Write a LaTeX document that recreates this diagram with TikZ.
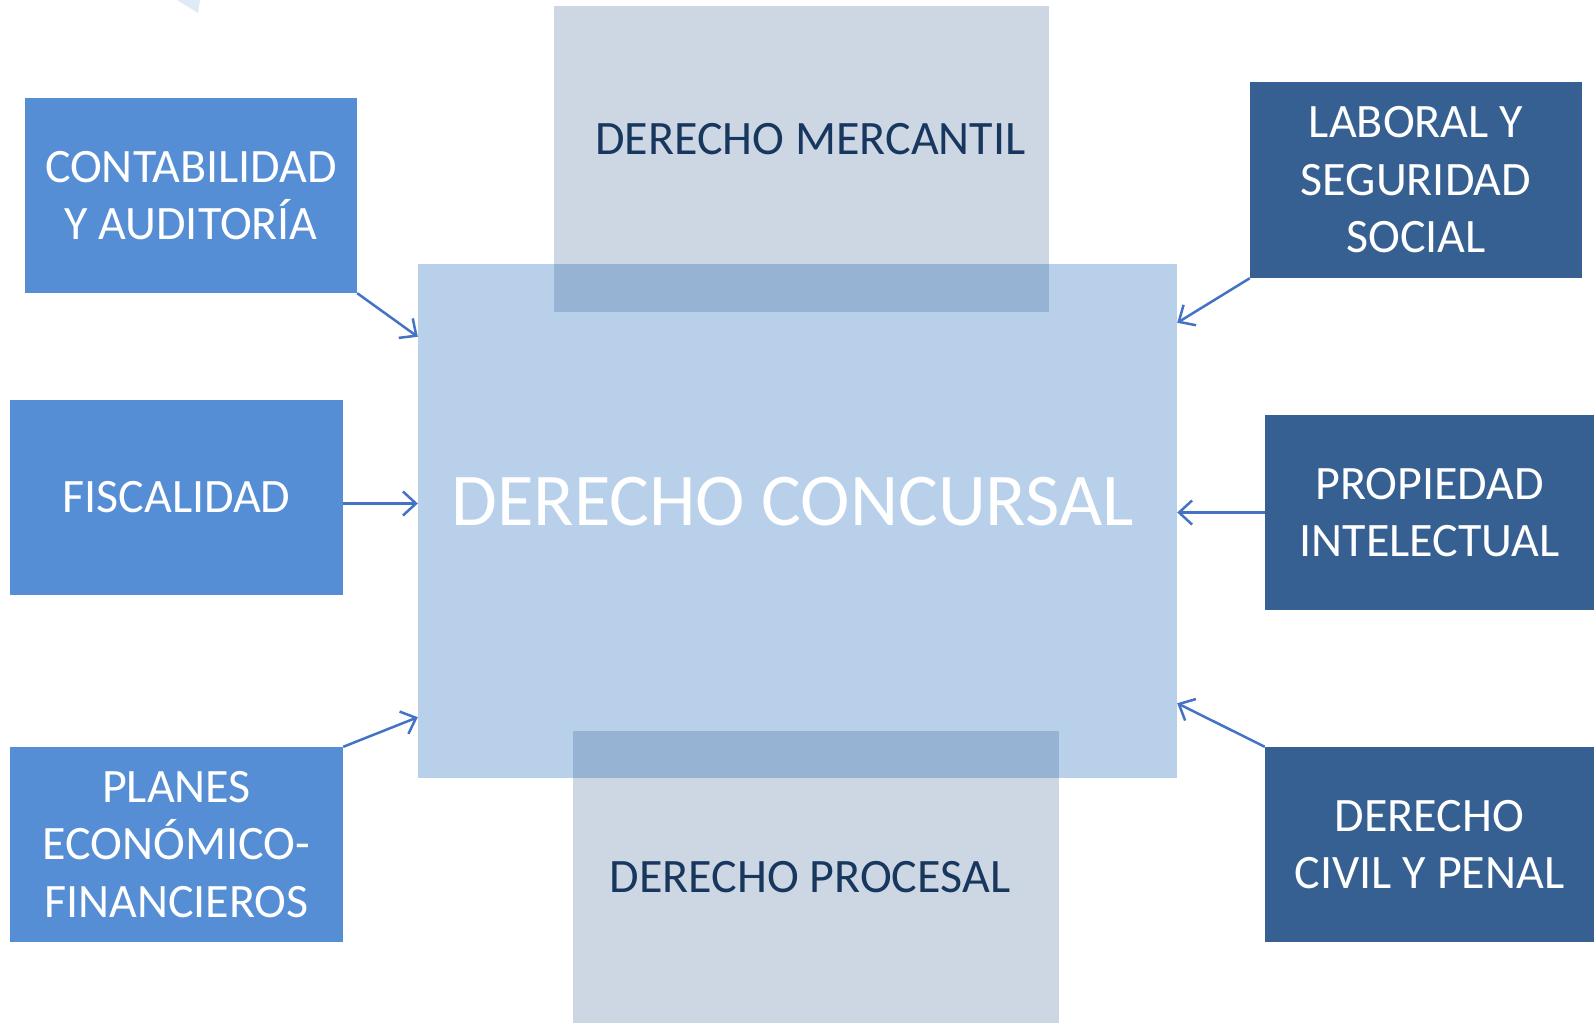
\documentclass[tikz,border=0pt]{standalone}
\usepackage{fontspec}
\setmainfont{Carlito}
\usetikzlibrary{calc,arrows.meta}
\definecolor{fondo}{RGB}{185,208,235}
\definecolor{claro}{RGB}{85,142,213}
\definecolor{oscuro}{RGB}{55,96,146}
\definecolor{gris}{RGB}{49,90,144}
\definecolor{letra}{RGB}{23,55,94}
\definecolor{flecha}{RGB}{68,114,196}

\begin{document}
\begin{tikzpicture}[x=1pt,y=-1pt,
	caja/.style={rectangle, inner sep=0pt, align=center, text=white, font=\fontsize{48}{57.5}\selectfont},
	lateral/.style={caja, minimum width=332pt, minimum height=195pt},
	velo/.style={caja, fill=gris, fill opacity=0.243, text opacity=1, text=letra},
	flechas/.style={line width=2.5pt, draw=flecha, -{Straight Barb[length=13pt,width=24pt]}}]
	\useasboundingbox (0,0) rectangle (1594,1023);
	\fill[fondo!45] (177,0) -- (200,0) -- (198,13) -- cycle;
	
	\node[caja, fill=fondo, minimum width=759pt, minimum height=514pt] (dc) at (797.5,521) {};
	\node[velo, minimum width=495pt, minimum height=306pt] (merc) at (801.5,159) {};
	\node[velo, minimum width=486pt, minimum height=292pt] (proc) at (816,877) {};
	\node[caja, text=letra] (merct) at ($(merc)+(9,-20)$) {DERECHO MERCANTIL};
	\node[caja, text=letra] (proct) at ($(proc)+(-6,0)$) {DERECHO PROCESAL};
	\node[caja, font=\fontsize{74.5}{86}\selectfont] (dct) at ($(dc)+(-5,-19)$) {DERECHO CONCURSAL};
	
	\node[lateral, fill=claro] (cont) at (191,195.5) {CONTABILIDAD\\Y AUDITORÍA};
	\node[lateral, fill=claro, minimum width=333pt] (fisc) at (176.5,497.5) {FISCALIDAD};
	\node[lateral, fill=claro, minimum width=333pt] (plan) at (176.5,844.5) {PLANES\\ECONÓMICO-\\FINANCIEROS};
	\node[lateral, fill=oscuro, minimum height=196pt] (lab) at (1416,180) {LABORAL Y\\SEGURIDAD\\SOCIAL};
	\node[lateral, fill=oscuro, minimum width=329pt] (prop) at (1429.5,512.5) {PROPIEDAD\\INTELECTUAL};
	\node[lateral, fill=oscuro, minimum width=329pt] (civ) at (1429.5,844.5) {DERECHO\\CIVIL Y PENAL};
	
	\draw[flechas] (cont.south east) -- ($(dc.north west)+(0,73)$);
	\draw[flechas] ([yshift=-6pt]fisc.east) -- ([yshift=-6pt]fisc.east -| dc.west);
	\draw[flechas] (plan.north east) -- ($(dc.south west)+(0,-61)$);
	\draw[flechas] (lab.south west) -- ($(dc.north east)+(0,59)$);
	\draw[flechas] (prop.west) -- (prop.west -| dc.east);
	\draw[flechas] (civ.north west) -- ($(dc.south east)+(0,-75)$);
\end{tikzpicture}
\end{document}
